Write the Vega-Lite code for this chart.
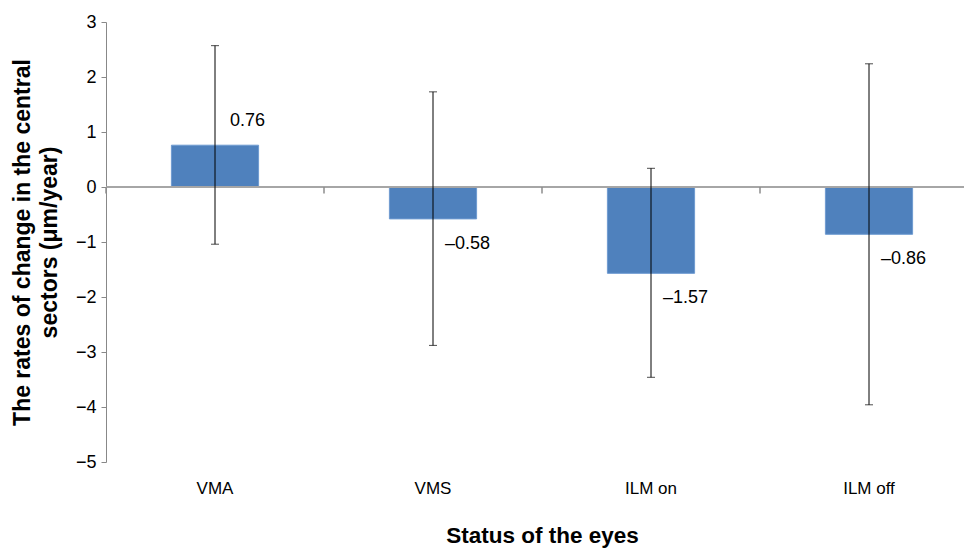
{
  "$schema": "https://vega.github.io/schema/vega-lite/v6.json",
  "autosize": {"type": "none"},
  "padding": {"left": 106, "top": 22, "right": 0, "bottom": 93},
  "width": 872,
  "height": 440,
  "background": "white",
  "config": {
    "font": "Liberation Sans",
    "view": {"stroke": null},
    "axis": {"labelFont": "Liberation Sans", "titleFont": "Liberation Sans"}
  },
  "data": {
    "values": [
      {"status": "VMA", "rate": 0.76, "lo": -1.04, "hi": 2.57, "label": "0.76"},
      {"status": "VMS", "rate": -0.58, "lo": -2.88, "hi": 1.73, "label": "–0.58"},
      {"status": "ILM on", "rate": -1.57, "lo": -3.46, "hi": 0.34, "label": "–1.57"},
      {"status": "ILM off", "rate": -0.86, "lo": -3.96, "hi": 2.24, "label": "–0.86"}
    ]
  },
  "layer": [
    {
      "mark": {"type": "bar", "color": "#4f81bd", "stroke": "#6f9bd1", "strokeWidth": 1},
      "encoding": {
        "x": {
          "field": "status",
          "type": "nominal",
          "sort": null,
          "scale": {"paddingInner": 0.6, "paddingOuter": 0.3},
          "axis": {
            "title": "Status of the eyes",
            "titleFontSize": 22.5,
            "titleFontWeight": "bold",
            "titleColor": "black",
            "titlePadding": 28,
            "labelAngle": 0,
            "labelFontSize": 17,
            "labelColor": "black",
            "labelPadding": 18,
            "ticks": false,
            "domain": false
          }
        },
        "y": {
          "field": "rate",
          "type": "quantitative",
          "scale": {"domain": [-5, 3], "nice": false, "zero": false},
          "axis": {
            "title": ["The rates of change in the central", "sectors (μm/year)"],
            "titleFontSize": 23,
            "titleFontWeight": "bold",
            "titleColor": "black",
            "titleLineHeight": 27,
            "titlePadding": 14,
            "values": [-5, -4, -3, -2, -1, 0, 1, 2, 3],
            "labelFontSize": 18,
            "labelColor": "black",
            "labelPadding": 5,
            "tickSize": 5,
            "tickColor": "#888888",
            "domainColor": "#888888",
            "grid": false
          }
        }
      }
    },
    {
      "mark": {"type": "rule", "color": "#a6a6a6", "strokeWidth": 1.3},
      "encoding": {
        "y": {"datum": 0, "type": "quantitative", "axis": null},
        "x": {"value": 0},
        "x2": {"value": 872}
      }
    },
    {
      "mark": {"type": "rule", "color": "#8c8c8c", "strokeWidth": 1.5},
      "encoding": {
        "x": {
          "field": "status",
          "type": "nominal",
          "sort": null,
          "bandPosition": 0,
          "scale": {"paddingInner": 0, "paddingOuter": 0},
          "axis": null
        },
        "y": {"datum": 0, "type": "quantitative", "axis": null},
        "y2": {"datum": -0.12}
      }
    },
    {
      "mark": {"type": "errorbar", "ticks": {"size": 8, "color": "black", "thickness": 1}, "rule": {"color": "black", "strokeWidth": 1}},
      "encoding": {
        "x": {"field": "status", "type": "nominal", "sort": null, "scale": {"paddingInner": 0.6, "paddingOuter": 0.3}, "axis": null},
        "y": {"field": "lo", "type": "quantitative", "axis": null},
        "y2": {"field": "hi"}
      }
    },
    {
      "transform": [{"filter": "datum.rate >= 0"}],
      "mark": {"type": "text", "align": "left", "baseline": "middle", "dx": 15, "dy": -24, "fontSize": 18, "color": "black"},
      "encoding": {
        "x": {"field": "status", "type": "nominal", "scale": {"domain": ["VMA", "VMS", "ILM on", "ILM off"], "paddingInner": 0.6, "paddingOuter": 0.3}, "axis": null},
        "y": {"field": "rate", "type": "quantitative", "axis": null},
        "text": {"field": "label"}
      }
    },
    {
      "transform": [{"filter": "datum.rate < 0"}],
      "mark": {"type": "text", "align": "left", "baseline": "middle", "dx": 12, "dy": 25, "fontSize": 18, "color": "black"},
      "encoding": {
        "x": {"field": "status", "type": "nominal", "scale": {"domain": ["VMA", "VMS", "ILM on", "ILM off"], "paddingInner": 0.6, "paddingOuter": 0.3}, "axis": null},
        "y": {"field": "rate", "type": "quantitative", "axis": null},
        "text": {"field": "label"}
      }
    }
  ],
  "resolve": {"scale": {"x": "independent"}, "axis": {"x": "independent", "y": "independent"}}
}
